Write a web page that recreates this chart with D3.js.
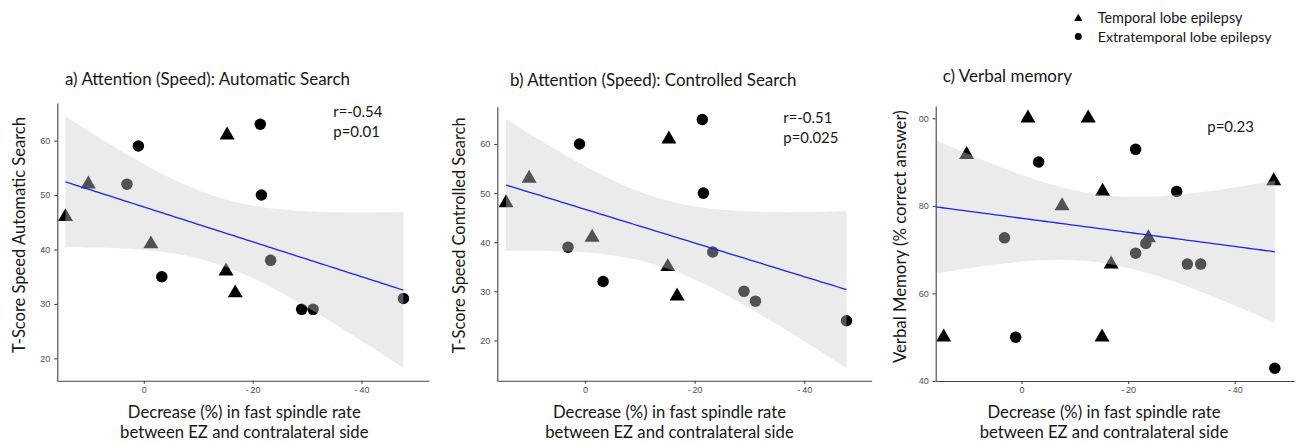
<!DOCTYPE html>
<html>
<head>
<meta charset="utf-8">
<script src="https://cdn.jsdelivr.net/npm/d3@7"></script>
<style>
	body { margin: 0; background: #fff; }
	svg { display: block; }
	.tick text { font-family: "Liberation Sans", Arial, sans-serif; font-size: 9px; fill: #4d4d4d; }
	.axis path, .axis line { stroke: #444; stroke-width: 1.1; }
	.lbl { font-family: Lato, "Open Sans", sans-serif; fill: #161616; }
</style>
</head>
<body>
<svg id="chart" width="1298" height="443"></svg>
<script>
// values
const xTicks = [0, -20, -40];

// panels a and b: same 15 patients (x = decrease in fast spindle rate, %)
const xAB = [14.4, 10.2, 3.1, 1.0, -1.3, -3.3, -15.3, -21.4, -21.6, -15.1, -16.8, -23.3, -29.0, -31.1, -47.7];
const epiAB = ["TLE", "TLE", "ETLE", "ETLE", "TLE", "ETLE", "TLE", "ETLE", "ETLE", "TLE", "TLE", "ETLE", "ETLE", "ETLE", "ETLE"];
const yAutomatic = [46, 52, 52, 59, 41, 35, 61, 63, 50, 36, 32, 38, 29, 29, 31];
const yControlled = [48, 53, 39, 60, 41, 32, 61, 65, 50, 35, 29, 38, 30, 28, 24];
const yTicksAB = [20, 30, 40, 50, 60];

// panel c: 21 patients; the last one sits left of the visible x range
// (clipped, but the fitted line still reaches the axis because of it)
const xVerbal = [14.6, 10.3, 3.2, 1.1, -1.2, -3.2, -7.6, -12.5, -15.2, -15.1, -16.8, -21.4, -21.4, -23.3, -23.8, -29.1, -31.1, -33.6, -47.3, -47.5, 19];
const epiVerbal = ["TLE", "TLE", "ETLE", "ETLE", "TLE", "ETLE", "TLE", "TLE", "TLE", "TLE", "TLE", "ETLE", "ETLE", "ETLE", "TLE", "ETLE", "ETLE", "ETLE", "TLE", "ETLE", "TLE"];
const yVerbal = [50, 91.7, 72.7, 50, 100, 90, 80, 100, 83.3, 50, 66.7, 92.9, 69.2, 71.4, 72.7, 83.3, 66.7, 66.7, 85.7, 42.9, 86];
const yTicksVerbal = [40, 60, 80, 100];

const titles = ["a) Attention (Speed): Automatic Search", "b) Attention (Speed): Controlled Search", "c) Verbal memory"];
const yTitles = ["T-Score Speed Automatic Search", "T-Score Speed Controlled Search", "Verbal Memory (% correct answer)"];
const statLines = [["r=-0.54", "p=0.01"], ["r=-0.51", "p=0.025"], ["p=0.23"]];
const xTitleLines = ["Decrease (%) in fast spindle rate", "between EZ and contralateral side"];
const legendKeys = ["TLE", "ETLE"];
const legendLabels = ["Temporal lobe epilepsy", "Extratemporal lobe epilepsy"];

const panels = [
	{xs: xAB, ys: yAutomatic, epi: epiAB, yTicks: yTicksAB,
		left: 57.3, right: 429, top: 103, bottom: 380.7, xDom: [15.9, -52.4], yDom: [15.9, 66.9],
		titleX: 65, titleY: 85, titleW: 285, statX: 333.3, statY: [117.3, 137.3], statW: [49, 46.7],
		yTitleX: 19.7, yTitleY: 235, yTitleW: 236, xTitleX: 244.3},
	{xs: xAB, ys: yControlled, epi: epiAB, yTicks: yTicksAB,
		left: 497.3, right: 871.7, top: 106.7, bottom: 380.7, xDom: [16.0, -52.3], yDom: [11.8, 67.6],
		titleX: 510, titleY: 85.7, titleW: 286.7, statX: 783.3, statY: [122.7, 143.3], statW: [49, 55],
		yTitleX: 459, yTitleY: 235.3, yTitleW: 236, xTitleX: 669.5},
	{xs: xVerbal, ys: yVerbal, epi: epiVerbal, yTicks: yTicksVerbal,
		left: 935.7, right: 1294, top: 106, bottom: 381, xDom: [16.1, -51.1], yDom: [40, 102.8],
		titleX: 942.7, titleY: 82, titleW: 129.3, statX: 1207.3, statY: [131.7], statW: [46.7],
		yTitleX: 900, yTitleY: 236.7, yTitleW: 253, xTitleX: 1104}
];

const triangle = d3.symbol(d3.symbolTriangle).size(97);
const circle = d3.symbol(d3.symbolCircle).size(104);

function tQuant975(df) {
	// Cornish-Fisher expansion of the t quantile
	const z = 1.959964, z3 = z ** 3, z5 = z ** 5, z7 = z ** 7;
	return z + (z3 + z) / (4 * df) + (5 * z5 + 16 * z3 + 3 * z) / (96 * df * df)
		+ (3 * z7 + 19 * z5 + 17 * z3 - 15 * z) / (384 * df ** 3);
}

// ordinary least squares with a 95% confidence band, like geom_smooth(method = "lm")
function lmFit(xs, ys) {
	const n = xs.length, mx = d3.mean(xs), my = d3.mean(ys);
	let sxx = 0, sxy = 0;
	xs.forEach((x, i) => { sxx += (x - mx) ** 2; sxy += (x - mx) * (ys[i] - my); });
	const b = sxy / sxx, a = my - b * mx;
	const sse = d3.sum(xs, (x, i) => (ys[i] - a - b * x) ** 2);
	const s = Math.sqrt(sse / (n - 2)), t = tQuant975(n - 2);
	const [lo, hi] = d3.extent(xs);
	return d3.range(81).map(k => {
		const x = lo + (hi - lo) * k / 80;
		const f = a + b * x;
		const se = s * Math.sqrt(1 / n + (x - mx) ** 2 / sxx);
		return {x: x, f: f, lo: f - t * se, hi: f + t * se};
	});
}

// scale a label's font so that it spans the width seen in the figure
function fitWidth(sel, width) {
	const w = sel.node().getComputedTextLength();
	sel.style("font-size", (16 * width / w).toFixed(2) + "px");
	return sel;
}

const svg = d3.select("#chart");
const defs = svg.append("defs");

panels.forEach((p, i) => {
	const x = d3.scaleLinear().domain(p.xDom).range([p.left, p.right]);
	const y = d3.scaleLinear().domain(p.yDom).range([p.bottom, p.top]);

	defs.append("clipPath").attr("id", "clip" + i)
		.append("rect")
		.attr("x", p.left).attr("y", p.top)
		.attr("width", p.right - p.left).attr("height", p.bottom - p.top);

	const plot = svg.append("g").attr("clip-path", "url(#clip" + i + ")");
	const fit = lmFit(p.xs, p.ys);

	plot.selectAll(".pt")
		.data(p.xs.map((v, k) => ({x: v, y: p.ys[k], epi: p.epi[k]})))
		.enter().append("path")
		.attr("class", "pt")
		.attr("transform", d => "translate(" + x(d.x) + "," + y(d.y) + ")")
		.attr("d", d => d.epi === "TLE" ? triangle() : circle())
		.attr("fill", "#000");

	// translucent band drawn over the points, which greys the ones it covers
	plot.append("path").datum(fit)
		.attr("d", d3.area().x(d => x(d.x)).y0(d => y(d.lo)).y1(d => y(d.hi)))
		.attr("fill", "#cccccc")
		.attr("fill-opacity", 0.4);

	plot.append("path").datum(fit)
		.attr("d", d3.line().x(d => x(d.x)).y(d => y(d.f)))
		.attr("fill", "none")
		.attr("stroke", "#1f1fff")
		.attr("stroke-width", 1.3);

	svg.append("g").attr("class", "axis")
		.attr("transform", "translate(0," + p.bottom + ")")
		.call(d3.axisBottom(x).tickValues(xTicks).tickSize(3).tickSizeOuter(0).tickPadding(3)
			.tickFormat(d => d === 0 ? "0" : "-\u2009" + Math.abs(d)));

	svg.append("g").attr("class", "axis")
		.attr("transform", "translate(" + p.left + ",0)")
		.call(d3.axisLeft(y).tickValues(p.yTicks).tickSize(3).tickSizeOuter(0).tickPadding(4)
			.tickFormat(d => d === 100 ? "00" : d));   // leading 1 is cut off in the figure

	fitWidth(svg.append("text").attr("class", "lbl")
		.attr("x", p.titleX).attr("y", p.titleY)
		.text(titles[i]), p.titleW);

	statLines[i].forEach((s, k) => {
		fitWidth(svg.append("text").attr("class", "lbl")
			.attr("x", p.statX).attr("y", p.statY[k])
			.text(s), p.statW[k]);
	});

	fitWidth(svg.append("text").attr("class", "lbl")
		.attr("text-anchor", "middle")
		.attr("transform", "translate(" + p.yTitleX + "," + p.yTitleY + ") rotate(-90)")
		.attr("dy", "0.35em")
		.text(yTitles[i]), p.yTitleW);

	const xt1 = fitWidth(svg.append("text").attr("class", "lbl")
		.attr("text-anchor", "middle")
		.attr("x", p.xTitleX).attr("y", 417.5)
		.text(xTitleLines[0]), 233);
	svg.append("text").attr("class", "lbl")
		.attr("text-anchor", "middle")
		.attr("x", p.xTitleX).attr("y", 437.5)
		.style("font-size", xt1.style("font-size"))
		.text(xTitleLines[1]);
});

// legend
const legendSymbol = {
	TLE: d3.symbol(d3.symbolTriangle).size(30),
	ETLE: d3.symbol(d3.symbolCircle).size(38)
};
const legend = svg.append("g");
legendKeys.forEach((key, k) => {
	legend.append("path")
		.attr("transform", "translate(1078.3," + (18.5 + 18 * k) + ")")
		.attr("d", legendSymbol[key]())
		.attr("fill", "#000");
	fitWidth(legend.append("text").attr("class", "lbl")
		.attr("x", 1097.7).attr("y", 23.3 + 18.2 * k)
		.text(legendLabels[k]), k === 0 ? 145 : 174);
});
</script>
</body>
</html>
